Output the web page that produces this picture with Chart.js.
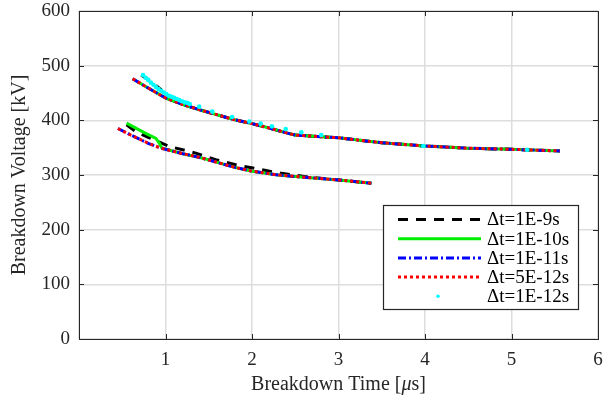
<!DOCTYPE html>
<html>
<head>
<meta charset="utf-8">
<script src="https://cdn.jsdelivr.net/npm/chart.js@4/dist/chart.umd.min.js"></script>
<style>
  html, body { margin: 0; padding: 0; background: #fff; }
</style>
</head>
<body>
<canvas id="main-chart" width="605" height="401"></canvas>
<script>
// upper / lower curves shared by dt=1E-11s and dt=5E-12s (1E-10s too, except its start)
const upperTime = [0.62, 0.8, 1.0, 1.2, 1.4, 1.6, 1.8, 2.0, 2.2, 2.4, 2.5, 2.8, 3.0, 3.5, 4.0, 4.5, 5.0, 5.56];
const upperVolt = [476, 459, 441, 429, 419, 410, 401, 394, 386, 377, 373, 370, 368, 359, 353, 349, 347, 344];
const lowerTime = [0.45, 0.6, 0.8, 0.95, 1.2, 1.4, 1.6, 1.8, 2.0, 2.3, 2.6, 3.0, 3.38];
const lowerVolt = [385, 373, 358, 349, 339, 332, 323, 314, 307, 300, 296, 291, 285];

// dt=1E-10s lower branch
const greenLowTime = [0.55, 0.62, 0.70, 0.80, 0.89, 0.93, 0.96, 1.2, 1.4, 1.6, 1.8, 2.0, 2.3, 2.6, 3.0, 3.38];
const greenLowVolt = [395, 389, 382, 374, 367, 358, 349, 339, 332, 323, 314, 307, 300, 296, 291, 285];

// dt=1E-9s
const blackUpTime = [0.72, 0.84, 0.95, 1.0, 1.2, 1.4, 1.6, 1.8, 2.0, 2.2, 2.4, 2.5, 2.8, 3.0, 3.5, 4.0, 4.5, 5.0, 5.56];
const blackUpVolt = [483, 470, 456, 441, 429, 419, 410, 401, 394, 386, 377, 373, 370, 368, 359, 353, 349, 347, 344];
const blackLowTime = [0.55, 0.66, 0.8, 0.93, 1.05, 1.35, 1.58, 1.83, 2.1, 2.34, 2.62, 3.0, 3.38];
const blackLowVolt = [392, 379, 369, 360, 352, 340, 328, 318, 310, 303, 297, 291, 285];

// dt=1E-12s (markers only)
const cyanTime = [0.74, 0.77, 0.80, 0.83, 0.86, 0.89, 0.92, 0.95, 0.98, 1.01, 1.04, 1.07, 1.10, 1.13, 1.16, 1.19, 1.22, 1.25, 1.28,
                  1.39, 1.54, 1.77, 1.97, 2.10, 2.23, 2.39, 2.57, 2.80, 3.98, 5.18];
const cyanVolt = [483, 478, 474, 469, 465, 461, 457, 454, 451, 448, 445, 443, 441, 439, 437, 435, 433, 432, 430,
                  425, 416, 406, 398, 394, 389, 384, 378, 373, 353, 346];

const xTicks = [0, 1, 2, 3, 4, 5, 6];
const yTicks = [0, 100, 200, 300, 400, 500, 600];
const seriesLabels = ["\u0394t=1E-9s", "\u0394t=1E-10s", "\u0394t=1E-11s", "\u0394t=5E-12s", "\u0394t=1E-12s"];

const FONT = "'Liberation Serif', 'Times New Roman', serif";
const AXIS = "#262626";

function pts(t, v) {
  return t.map(function (x, i) { return { x: x, y: v[i] }; });
}
// two branches in one dataset, broken by a null
function branches(a, b) {
  return a.concat([{ x: a[a.length - 1].x, y: null }], b);
}

var datasets = [
  {
    label: seriesLabels[0],
    data: branches(pts(blackUpTime, blackUpVolt), pts(blackLowTime, blackLowVolt)),
    borderColor: "#000000",
    borderWidth: 3,
    borderDash: [10, 8],
    order: 4,
  },
  {
    label: seriesLabels[1],
    data: branches(pts(upperTime, upperVolt), pts(greenLowTime, greenLowVolt)),
    borderColor: "#00ee00",
    borderWidth: 3,
    order: 3,
  },
  {
    label: seriesLabels[2],
    data: branches(pts(upperTime, upperVolt), pts(lowerTime, lowerVolt)),
    borderColor: "#0000ff",
    borderWidth: 3,
    borderDash: [8, 3, 2, 3],
    order: 2,
  },
  {
    label: seriesLabels[3],
    data: branches(pts(upperTime, upperVolt), pts(lowerTime, lowerVolt)),
    borderColor: "#ff0000",
    borderWidth: 3,
    borderDash: [3, 3],
    order: 1,
  },
  {
    label: seriesLabels[4],
    data: pts(cyanTime, cyanVolt),
    borderColor: "#00ffff",
    backgroundColor: "#00ffff",
    showLine: false,
    pointRadius: 2.3,
    pointBorderWidth: 0,
    order: 0,
  },
];
datasets.forEach(function (d) {
  if (d.showLine !== false) {
    d.showLine = true;
    d.pointRadius = 0;
    d.fill = false;
    d.spanGaps = false;
    d.tension = 0;
  }
});

// box, inward ticks, x title and legend, drawn like the original figure
var frame = {
  id: "frame",
  afterDatasetsDraw: function (chart) {
    var c = chart.ctx, a = chart.chartArea;
    var xs = chart.scales.x, ys = chart.scales.y;
    c.save();
    c.strokeStyle = AXIS;
    c.lineWidth = 1;
    c.beginPath();
    xTicks.forEach(function (t) {
      var px = Math.round(xs.getPixelForValue(t)) + 0.5;
      c.moveTo(px, a.bottom); c.lineTo(px, a.bottom - 5);
      c.moveTo(px, a.top); c.lineTo(px, a.top + 5);
    });
    yTicks.forEach(function (t) {
      var py = Math.round(ys.getPixelForValue(t)) + 0.5;
      c.moveTo(a.left, py); c.lineTo(a.left + 5, py);
      c.moveTo(a.right, py); c.lineTo(a.right - 5, py);
    });
    c.stroke();
    c.strokeRect(Math.round(a.left) + 0.5, Math.round(a.top) + 0.5,
      Math.round(a.right - a.left), Math.round(a.bottom - a.top));

    // x title with italic mu
    var parts = [["Breakdown Time [", ""], ["\u03bc", "italic "], ["s]", ""]];
    var total = 0;
    parts.forEach(function (p) {
      c.font = p[1] + "20px " + FONT;
      p.push(c.measureText(p[0]).width);
      total += p[2];
    });
    var tx = (a.left + a.right) / 2 - total / 2;
    c.fillStyle = AXIS;
    c.textBaseline = "alphabetic";
    c.textAlign = "left";
    parts.forEach(function (p) {
      c.font = p[1] + "20px " + FONT;
      c.fillText(p[0], tx, 390);
      tx += p[2];
    });

    // legend
    var bx = 383.5, by = 205.5, bw = 195, bh = 104;
    c.fillStyle = "#ffffff";
    c.fillRect(bx, by, bw, bh);
    c.strokeStyle = AXIS;
    c.lineWidth = 1.2;
    c.strokeRect(bx, by, bw, bh);
    c.font = "19px " + FONT;
    c.textBaseline = "middle";
    c.textAlign = "left";
    chart.data.datasets.forEach(function (d, i) {
      var y = by + 14 + i * 19.2;
      if (d.showLine) {
        c.strokeStyle = d.borderColor;
        c.lineWidth = d.borderWidth;
        c.setLineDash(d.borderDash || []);
        c.beginPath();
        c.moveTo(398, y); c.lineTo(481, y);
        c.stroke();
        c.setLineDash([]);
      } else {
        c.fillStyle = d.backgroundColor;
        c.beginPath();
        c.arc(438, y, 1.8, 0, Math.PI * 2);
        c.fill();
      }
      c.fillStyle = "#000000";
      c.fillText(d.label, 487, y + 1);
    });
    c.restore();
  },
};

function noEdgePadding(s) {
  s.paddingTop = 0;
  s.paddingBottom = 0;
  s.paddingLeft = 0;
  s.paddingRight = 0;
}

var ctx = document.getElementById("main-chart");
var chart = new Chart(ctx, {
  type: "scatter",
  data: { datasets: datasets },
  options: {
    responsive: false,
    animation: false,
    events: [],
    layout: { padding: { top: 11, right: 7, left: 0, bottom: 0 } },
    plugins: {
      legend: { display: false },
      tooltip: { enabled: false },
    },
    scales: {
      x: {
        type: "linear",
        min: 0,
        max: 6,
        afterBuildTicks: function (s) {
          s.ticks = xTicks.map(function (v) { return { value: v }; });
        },
        afterFit: function (s) { s.height = 62; noEdgePadding(s); },
        ticks: {
          color: AXIS,
          font: { family: FONT, size: 19 },
          padding: 10,
          maxRotation: 0,
          callback: function (v) { return v === 0 ? "" : v; },
        },
        grid: { color: "#dddddd", lineWidth: 1.5, drawTicks: false },
        border: { display: false },
        title: { display: false },
      },
      y: {
        type: "linear",
        min: 0,
        max: 600,
        afterBuildTicks: function (s) {
          s.ticks = yTicks.map(function (v) { return { value: v }; });
        },
        afterFit: function (s) { s.width = 79; noEdgePadding(s); },
        ticks: {
          color: AXIS,
          font: { family: FONT, size: 19 },
          padding: 9,
        },
        grid: { color: "#dddddd", lineWidth: 1.5, drawTicks: false },
        border: { display: false },
        title: {
          display: true,
          text: "Breakdown Voltage [kV]",
          color: AXIS,
          font: { family: FONT, size: 20 },
          padding: { top: 8, bottom: 0 },
        },
      },
    },
  },
  plugins: [frame],
});
</script>
</body>
</html>
